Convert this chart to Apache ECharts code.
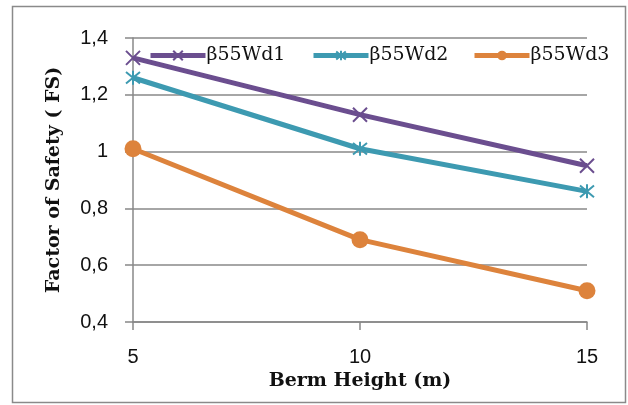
<!DOCTYPE html>
<html><head><meta charset="utf-8">
<script src="https://cdn.jsdelivr.net/npm/echarts@6/dist/echarts.min.js"></script>
<style>html,body{margin:0;padding:0;background:#fff}#c{width:628px;height:405px}</style>
</head><body><div id="c"></div>
<script>
const xValues = [5, 10, 15];
const seriesNames = ['β55Wd1', 'β55Wd2', 'β55Wd3'];
const wd1 = [1.33, 1.13, 0.95];
const wd2 = [1.26, 1.01, 0.86];
const wd3 = [1.01, 0.69, 0.51];
const colors = ['#6B4E8F', '#3D9AB1', '#DD833C'];

const xPath = 'path://M0,0L10,10M10,0L0,10';
const starPath = 'path://M0,0L10,10M10,0L0,10M5,-1L5,11';
const symbols = [xPath, starPath, 'circle'];
const sizes = [14, 14, 17];
const datas = [wd1, wd2, wd3];

const series = datas.map((d, i) => ({
  name: seriesNames[i],
  type: 'line',
  data: d.map((v, j) => [xValues[j], v]),
  symbol: symbols[i],
  symbolSize: sizes[i],
  showAllSymbol: true,
  lineStyle: {width: 5, color: colors[i]},
  itemStyle: {color: colors[i], borderColor: colors[i], borderWidth: i < 2 ? 2 : 0},
  emphasis: {disabled: true},
  animation: false
}));

const legendLefts = [143, 306, 467];
const chart = echarts.init(document.getElementById('c'));
chart.setOption({
  animation: false,
  grid: {left: 133, right: 41, top: 38, bottom: 83},
  legend: seriesNames.map((n, i) => ({
    data: [n], left: legendLefts[i], top: 41, itemWidth: 55, itemHeight: 12, itemGap: 0,
    lineStyle: {width: 5},
    textStyle: {fontFamily: 'DejaVu Serif', fontSize: 19, color: '#111', padding: [0, 0, 0, -4]}
  })),
  xAxis: {
    type: 'value', min: 5, max: 15, interval: 5,
    name: 'Berm Height (m)', nameLocation: 'middle', nameGap: 49,
    nameTextStyle: {fontFamily: 'DejaVu Serif', fontWeight: 'bold', fontSize: 19, color: '#111'},
    axisLine: {show: true, lineStyle: {color: '#888', width: 1.5}},
    axisTick: {show: true, length: 8, lineStyle: {color: '#888', width: 1.5}},
    axisLabel: {fontFamily: 'Liberation Sans', fontSize: 20, color: '#111', margin: 25},
    splitLine: {show: false}
  },
  yAxis: {
    type: 'value', min: 0.4, max: 1.4, interval: 0.2,
    name: 'Factor of Safety ( FS)', nameLocation: 'middle', nameGap: 69,
    nameTextStyle: {fontFamily: 'DejaVu Serif', fontWeight: 'bold', fontSize: 19, color: '#111'},
    axisLine: {show: true, lineStyle: {color: '#888', width: 1.5}},
    axisTick: {show: true, length: 8, lineStyle: {color: '#888', width: 1.5}},
    axisLabel: {fontFamily: 'Liberation Sans', fontSize: 20, color: '#111', margin: 25,
      formatter: v => String(Math.round(v * 10) / 10).replace('.', ',')},
    splitLine: {show: true, lineStyle: {color: '#888', width: 1.5}}
  },
  graphic: [{type: 'rect', shape: {x: 12.5, y: 6.5, width: 613, height: 396},
    style: {fill: 'none', stroke: '#8a8a8a', lineWidth: 1.5}, silent: true}],
  series: series
});
</script></body></html>
